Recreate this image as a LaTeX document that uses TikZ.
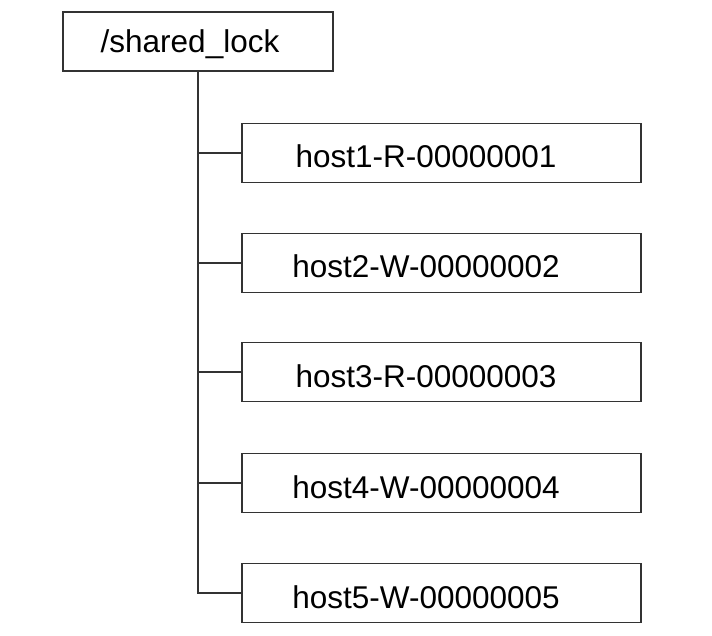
\documentclass[tikz,border=0pt]{standalone}
\usepackage{fontspec}
\setmainfont{Liberation Sans}
\begin{document}
\begin{tikzpicture}[x=1pt,y=-1pt,
  box/.style={draw=black!80,line width=1.8pt,rectangle,inner sep=0pt,minimum height=59pt},
  rootbox/.style={box,minimum width=270pt},
  childbox/.style={box,minimum width=399pt},
  lbl/.style={font=\fontsize{31.5}{36}\selectfont,anchor=base,inner sep=0pt},
  conn/.style={draw=black!80,line width=1.8pt}]
\useasboundingbox (0,0) rectangle (712,636);
\node[rootbox] (root) at (198,41.5) {};
\node[lbl] (rootlbl) at (190,53) {/shared\_lock};
\foreach \i/\y/\t in {1/153/host1-R-00000001,2/263/host2-W-00000002,3/372/host3-R-00000003,4/483/host4-W-00000004,5/593/host5-W-00000005}{
  \node[childbox] (b\i) at (441.5,\y) {};
  \node[lbl] (t\i) at (426,\y+15) {\t};
}
\coordinate (corner) at (root.south |- b5.west);
\draw[conn,line join=miter] (root.south) -- (corner) -- (b5.west);
\foreach \i in {1,2,3,4}{
  \draw[conn] (root.south |- b\i.west) -- (b\i.west);
}
\end{tikzpicture}
\end{document}
